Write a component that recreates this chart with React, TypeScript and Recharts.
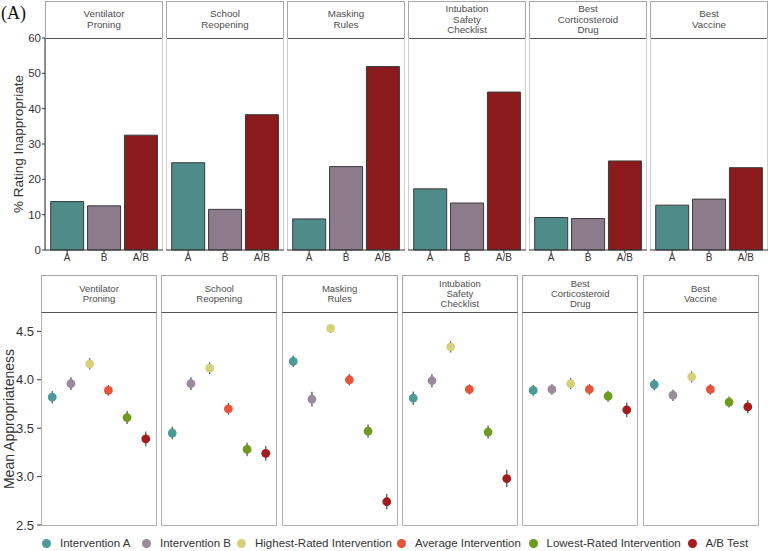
import { BarChart, Bar, XAxis, YAxis, Cell, ScatterChart, Scatter, ErrorBar } from "recharts";

const FONT = "'Liberation Sans', Arial, sans-serif";

const TOPICS = [
  ["Ventilator", "Proning"],
  ["School", "Reopening"],
  ["Masking", "Rules"],
  ["Intubation", "Safety", "Checklist"],
  ["Best", "Corticosteroid", "Drug"],
  ["Best", "Vaccine"],
];

// top: % rating inappropriate
const BAR_GROUPS = ["A", "B", "A/B"];
const PCT_A = [13.7, 24.7, 8.8, 17.3, 9.2, 12.7];
const PCT_B = [12.5, 11.5, 23.6, 13.3, 8.9, 14.4];
const PCT_AB = [32.5, 38.3, 51.9, 44.7, 25.2, 23.3];
const PCT_TICKS = [0, 10, 20, 30, 40, 50, 60];

// bottom: mean appropriateness
const ARMS = [
  "Intervention A",
  "Intervention B",
  "Highest-Rated Intervention",
  "Average Intervention",
  "Lowest-Rated Intervention",
  "A/B Test",
];
const MEANS = [
  [3.82, 3.96, 4.165, 3.89, 3.61, 3.39],
  [3.45, 3.96, 4.12, 3.7, 3.28, 3.24],
  [4.19, 3.8, 4.53, 4.0, 3.47, 2.74],
  [3.81, 3.99, 4.34, 3.9, 3.46, 2.98],
  [3.89, 3.9, 3.96, 3.9, 3.83, 3.69],
  [3.95, 3.84, 4.03, 3.9, 3.77, 3.72],
];
const ERRS = [
  [0.065, 0.065, 0.058, 0.055, 0.067, 0.077],
  [0.065, 0.065, 0.06, 0.06, 0.069, 0.076],
  [0.058, 0.077, 0.046, 0.058, 0.067, 0.08],
  [0.069, 0.067, 0.058, 0.052, 0.067, 0.09],
  [0.055, 0.055, 0.057, 0.055, 0.057, 0.074],
  [0.058, 0.058, 0.057, 0.055, 0.057, 0.069],
];
const MEAN_TICKS = [2.5, 3.0, 3.5, 4.0, 4.5];

const BAR_COLORS = ["#4f8b89", "#8b7b8b", "#8b1a1c"];
const ARM_COLORS = ["#4a9a9a", "#9a8a9c", "#d6d07a", "#e8543a", "#6e9a1e", "#a31b1d"];

const TOP_LEFT = 45;
const TOP_STEP = 121;
const TOP_W = 118;
const TOP_PLOT_TOP = 38;
const TOP_PLOT_H = 212;

const BOT_LEFT = 41;
const BOT_STEP = 120.3;
const BOT_W = 116;
const BOT_STRIP_TOP = 275;
const BOT_PLOT_TOP = 312;
const BOT_PLOT_H = 213;

const PAD = 8; // room for end tick labels
const LEGEND_X = [42, 142, 237, 397, 528.5, 687.5];

function Strip({ left, top, width, height, lines, size }: { left: number; top: number; width: number; height: number; lines: string[]; size: number }) {
  return (
    <div
      style={{
        position: "absolute", left, top, width, height, boxSizing: "border-box",
        border: "1px solid #a8a8a8", borderBottom: "1px solid #555",
        display: "flex", flexDirection: "column", justifyContent: "center", alignItems: "center",
        fontFamily: FONT, fontSize: size, lineHeight: `${size + 0.8}px`, color: "#4d4d4d", background: "#fff",
      }}
    >
      {lines.map((l) => <div key={l}>{l}</div>)}
    </div>
  );
}

function TopPanel({ i }: { i: number }) {
  const rows = BAR_GROUPS.map((g, k) => ({ group: g, pct: [PCT_A, PCT_B, PCT_AB][k][i] }));
  const first = i === 0;
  return (
    <div style={{ position: "absolute", left: first ? 0 : TOP_LEFT + i * TOP_STEP, top: TOP_PLOT_TOP - PAD }}>
      <BarChart
        width={(first ? TOP_LEFT : 0) + TOP_W}
        height={TOP_PLOT_H + 22 + PAD}
        data={rows}
        margin={{ top: PAD, right: 0, bottom: 0, left: 0 }}
        barCategoryGap={0}
      >
        <XAxis
          dataKey="group"
          interval={0}
          padding={{ left: 3.7, right: 3.7 }}
          height={22}
          axisLine={{ stroke: "#333" }}
          tickLine={{ stroke: "#333" }}
          tickSize={3}
          tickMargin={1}
          tick={{ fontSize: 10, fill: "#333", fontFamily: FONT }}
        />
        <YAxis
          hide={!first}
          width={TOP_LEFT}
          domain={[0, 60]}
          ticks={PCT_TICKS}
          interval={0}
          axisLine={{ stroke: "#333" }}
          tickLine={{ stroke: "#333" }}
          tickSize={3}
          tickMargin={1}
          tick={{ fontSize: 11.5, fill: "#333", fontFamily: FONT }}
        />
        <Bar dataKey="pct" barSize={33} stroke="#3a3a3a" strokeWidth={1} isAnimationActive={false}>
          {rows.map((r, k) => <Cell key={r.group} fill={BAR_COLORS[k]} />)}
        </Bar>
      </BarChart>
    </div>
  );
}

function BottomPanel({ i }: { i: number }) {
  const rows = ARMS.map((a, k) => ({ x: k + 1, y: MEANS[i][k], err: ERRS[i][k], k }));
  const first = i === 0;
  return (
    <div style={{ position: "absolute", left: first ? 0 : BOT_LEFT + i * BOT_STEP, top: BOT_PLOT_TOP }}>
      <ScatterChart
        width={(first ? BOT_LEFT : 0) + BOT_W}
        height={BOT_PLOT_H + PAD}
        margin={{ top: 0, right: 0, bottom: PAD, left: 0 }}
      >
        <XAxis type="number" dataKey="x" domain={[0.4, 6.6]} hide />
        <YAxis
          type="number"
          dataKey="y"
          hide={!first}
          width={BOT_LEFT}
          domain={[2.5, 4.7]}
          ticks={MEAN_TICKS}
          interval={0}
          axisLine={false}
          tickLine={{ stroke: "#333" }}
          tickSize={4}
          tickMargin={3}
          tickFormatter={(v: number) => v.toFixed(1)}
          tick={{ fontSize: 13, fill: "#333", fontFamily: FONT }}
        />
        <Scatter
          data={rows}
          isAnimationActive={false}
          shape={(p: any) => <circle cx={p.cx} cy={p.cy} r={4.4} fill={ARM_COLORS[p.payload.k]} />}
        >
          <ErrorBar dataKey="err" direction="y" width={0} stroke="#555" strokeWidth={1.3} />
        </Scatter>
      </ScatterChart>
    </div>
  );
}

export default function App() {
  return (
    <div style={{ position: "absolute", left: 0, top: 0, width: 768, height: 551, background: "#fff", overflow: "hidden" }}>
      <div style={{ position: "absolute", left: 1, top: 3, fontFamily: "'Liberation Serif', serif", fontSize: 18, color: "#111" }}>(A)</div>

      {/* top facet grid */}
      {TOPICS.map((t, i) => (
        <div key={"tf" + i}>
          <Strip left={TOP_LEFT + i * TOP_STEP} top={1} width={TOP_W} height={TOP_PLOT_TOP} lines={t} size={9.8} />
          <div
            style={{
              position: "absolute", left: TOP_LEFT + i * TOP_STEP, top: TOP_PLOT_TOP, width: TOP_W,
              height: TOP_PLOT_H, boxSizing: "border-box",
              borderLeft: "1px solid #cfcfcf", borderRight: "1px solid #cfcfcf",
            }}
          />
        </div>
      ))}
      {TOPICS.map((t, i) => <TopPanel key={"tp" + i} i={i} />)}
      <div
        style={{
          position: "absolute", left: 19 - 70, top: 144 - 9, width: 140, height: 18, textAlign: "center",
          transform: "rotate(-90deg)", fontFamily: FONT, fontSize: 13.5, lineHeight: "18px", color: "#333", whiteSpace: "nowrap",
        }}
      >
        % Rating Inappropriate
      </div>

      {/* bottom facet grid */}
      {TOPICS.map((t, i) => (
        <div key={"bf" + i}>
          <Strip left={BOT_LEFT + i * BOT_STEP} top={BOT_STRIP_TOP} width={BOT_W} height={BOT_PLOT_TOP - BOT_STRIP_TOP + 1} lines={t} size={9.5} />
          <div
            style={{
              position: "absolute", left: BOT_LEFT + i * BOT_STEP, top: BOT_PLOT_TOP + 1, width: BOT_W,
              height: BOT_PLOT_H, boxSizing: "border-box",
              border: "1px solid #b0b0b0", borderTop: "none",
            }}
          />
        </div>
      ))}
      {TOPICS.map((t, i) => <BottomPanel key={"bp" + i} i={i} />)}
      <div
        style={{
          position: "absolute", left: 9 - 80, top: 419 - 9, width: 160, height: 18, textAlign: "center",
          transform: "rotate(-90deg)", fontFamily: FONT, fontSize: 14, lineHeight: "18px", color: "#333", whiteSpace: "nowrap",
        }}
      >
        Mean Appropriateness
      </div>

      {/* legend */}
      {ARMS.map((a, k) => (
        <div
          key={a}
          style={{
            position: "absolute", left: LEGEND_X[k], top: 535, height: 16, display: "flex", alignItems: "center",
            fontFamily: FONT, fontSize: 11.5, color: "#333", whiteSpace: "nowrap",
          }}
        >
          <svg width={9} height={9} style={{ marginRight: 9 }}>
            <circle cx={4.5} cy={4.5} r={4.5} fill={ARM_COLORS[k]} />
          </svg>
          <span>{a}</span>
        </div>
      ))}
    </div>
  );
}
